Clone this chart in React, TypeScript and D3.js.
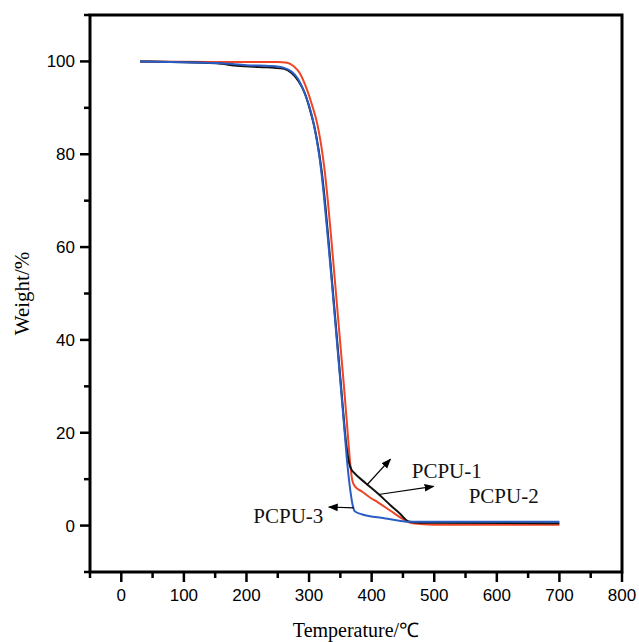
import React from "react";
import * as d3 from "d3";

// TGA curves: [temperature °C, weight %]
const pcpu1: [number, number][] = [
  [30, 100], [100, 99.8], [160, 99.5], [180, 99.1], [220, 98.8], [260, 98.4],
  [272, 97.5], [283, 95.8], [293, 93.2], [301, 89.8], [309, 85.6], [315, 81.2],
  [320, 76.5], [326, 69], [333, 58.5], [340, 47.5], [347, 36.5], [353, 27],
  [359, 18], [364, 13.5], [368, 12], [371, 11.5], [390, 9.2], [410, 6.9],
  [430, 4.4], [445, 2.6], [459, 0.9], [480, 0.6], [700, 0.5],
];
const pcpu2: [number, number][] = [
  [30, 100], [150, 99.9], [250, 99.9], [265, 99.7], [275, 99], [285, 97.5],
  [297, 93.8], [305, 90.5], [313, 86.6], [319, 82.3], [324, 77.5], [330, 70],
  [337, 59.5], [344, 48.5], [351, 37.5], [357, 28], [362, 19.5], [366, 13],
  [369, 9.8], [373, 8.5], [385, 7.3], [398, 6], [410, 5], [430, 3.2],
  [449, 1.5], [465, 0.5], [500, 0.2], [700, 0.2],
];
const pcpu3: [number, number][] = [
  [30, 100], [100, 99.8], [160, 99.6], [200, 99.2], [240, 99], [260, 98.6],
  [272, 97.8], [282, 96.3], [291, 93.8], [300, 90.5], [307, 86.8], [313, 82.5],
  [318, 78], [323, 72], [329, 63.5], [336, 53], [343, 42], [350, 31],
  [356, 21.5], [361, 13.5], [366, 7.5], [370, 4.2], [373, 3.1], [385, 2.4],
  [420, 1.6], [462, 0.8], [700, 0.8],
];

const seriesNames = ["PCPU-2", "PCPU-1", "PCPU-3"];
const seriesColors = ["#ee4526", "#111111", "#2a5ec4"];
const seriesData = [pcpu2, pcpu1, pcpu3];

const xTicks = [0, 100, 200, 300, 400, 500, 600, 700, 800];
const xMinor = [-50, 50, 150, 250, 350, 450, 550, 650, 750];
const yTicks = [0, 20, 40, 60, 80, 100];
const yMinor = [-10, 10, 30, 50, 70, 90, 110];

// annotations in data units
const labels = [
  { text: "PCPU-1", x: 464, y: 10.3 },
  { text: "PCPU-2", x: 555, y: 4.95 },
  { text: "PCPU-3", x: 211, y: 0.65 },
];
const arrows = [
  { from: [392.7, 8.8], to: [430, 14.3] },
  { from: [411, 6.7], to: [499, 8.45] },
  { from: [371.3, 3.8], to: [331.4, 4.0] },
];

const W = 639;
const H = 642;
const margin = { top: 15, right: 17, bottom: 70, left: 90 };

export default function App() {
  const x = d3.scaleLinear().domain([-50, 800]).range([margin.left, W - margin.right]);
  const y = d3.scaleLinear().domain([-10, 110]).range([H - margin.bottom, margin.top]);
  const line = d3
    .line<[number, number]>()
    .x((d) => x(d[0]))
    .y((d) => y(d[1]))
    .curve(d3.curveMonotoneX);

  const x0 = x.range()[0];
  const x1 = x.range()[1];
  const y0 = y.range()[0];
  const y1 = y.range()[1];

  return (
    <svg width={W} height={H} style={{ position: "absolute", left: 0, top: 0, background: "#fff" }}>
      <defs>
        <marker id="ah" viewBox="0 0 10 10" refX="9" refY="5" markerWidth="10" markerHeight="10" orient="auto" markerUnits="userSpaceOnUse">
          <path d="M0,1.2 L10,5 L0,8.8 Z" fill="#000" />
        </marker>
      </defs>

      {seriesData.map((s, i) => (
        <path key={seriesNames[i]} d={line(s) || ""} fill="none" stroke={seriesColors[i]} strokeWidth={2} />
      ))}

      {arrows.map((a, i) => (
        <line
          key={i}
          x1={x(a.from[0])}
          y1={y(a.from[1])}
          x2={x(a.to[0])}
          y2={y(a.to[1])}
          stroke="#000"
          strokeWidth={1.2}
          markerEnd="url(#ah)"
        />
      ))}
      {labels.map((l) => (
        <text key={l.text} x={x(l.x)} y={y(l.y)} fontFamily="'Liberation Serif', serif" fontSize={21} fill="#111">
          {l.text}
        </text>
      ))}

      {/* frame */}
      <path d={`M${x0},${y0} L${x0},${y1} L${x1},${y1} L${x1},${y0} Z`} fill="none" stroke="#000" strokeWidth={3} />

      {/* x axis ticks */}
      {xTicks.map((t) => (
        <g key={"xt" + t}>
          <line x1={x(t)} x2={x(t)} y1={y0} y2={y0 + 10} stroke="#000" strokeWidth={2.5} />
          <text x={x(t)} y={y0 + 29} textAnchor="middle" fontFamily="'Liberation Sans', Arial, sans-serif" fontSize={17}>
            {t}
          </text>
        </g>
      ))}
      {xMinor.map((t) => (
        <line key={"xm" + t} x1={x(t)} x2={x(t)} y1={y0} y2={y0 + 6} stroke="#000" strokeWidth={2.5} />
      ))}

      {/* y axis ticks */}
      {yTicks.map((t) => (
        <g key={"yt" + t}>
          <line x1={x0} x2={x0 - 10} y1={y(t)} y2={y(t)} stroke="#000" strokeWidth={2.5} />
          <text x={x0 - 15} y={y(t)} dy="0.35em" textAnchor="end" fontFamily="'Liberation Sans', Arial, sans-serif" fontSize={17}>
            {t}
          </text>
        </g>
      ))}
      {yMinor.map((t) => (
        <line key={"ym" + t} x1={x0} x2={x0 - 6} y1={y(t)} y2={y(t)} stroke="#000" strokeWidth={2.5} />
      ))}

      <text x={(x0 + x1) / 2} y={637} textAnchor="middle" fontFamily="'Liberation Serif', serif" fontSize={20}>
        Temperature/℃
      </text>
      <text
        transform={`translate(29,${(y0 + y1) / 2}) rotate(-90)`}
        textAnchor="middle"
        fontFamily="'Liberation Serif', serif"
        fontSize={21}
      >
        Weight/%
      </text>
    </svg>
  );
}
